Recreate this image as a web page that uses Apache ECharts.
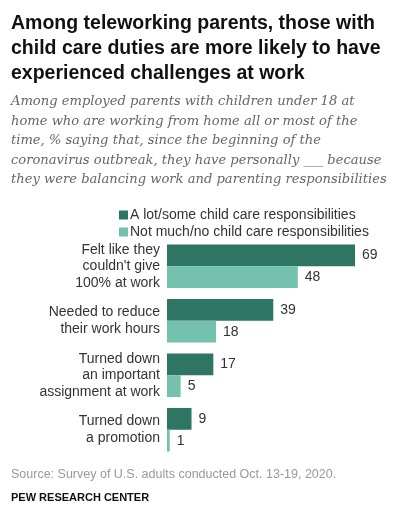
<!DOCTYPE html>
<html>
<head>
<meta charset="utf-8">
<script src="https://cdn.jsdelivr.net/npm/echarts@6/dist/echarts.min.js"></script>
<style>
  html, body { margin: 0; padding: 0; background: #fff; }
  #chart { width: 397px; height: 512px; }
</style>
</head>
<body>
<div id="chart"></div>
<script>
const categories = [
  "Felt like they\ncouldn't give\n100% at work",
  "Needed to reduce\ntheir work hours",
  "Turned down\nan important\nassignment at work",
  "Turned down\na promotion"
];
const seriesNames = [
  "A lot/some child care responsibilities",
  "Not much/no child care responsibilities"
];
const lotSome = [69, 39, 17, 9];
const notMuch = [48, 18, 5, 1];

const titleText = "Among teleworking parents, those with\nchild care duties are more likely to have\nexperienced challenges at work";
const subtitleText = "Among employed parents with children under 18 at\nhome who are working from home all or most of the\ntime, % saying that, since the beginning of the\ncoronavirus outbreak, they have personally ___ because\nthey were balancing work and parenting responsibilities";
const sourceText = "Source: Survey of U.S. adults conducted Oct. 13-19, 2020.";

const chart = echarts.init(document.getElementById('chart'));

const labelFont = "'Liberation Sans', Arial, sans-serif";

chart.setOption({
  animation: false,
  title: [
    {
      text: titleText,
      left: 6, top: 6,
      textStyle: { fontFamily: labelFont, fontWeight: 'bold', fontSize: 19.5, lineHeight: 25, color: '#111' }
    },
    {
      text: subtitleText,
      left: 6, top: 87,
      textStyle: { fontFamily: "'DejaVu Serif', serif", fontStyle: 'italic', fontWeight: 'normal', fontSize: 13.1, lineHeight: 19.5, color: '#666' }
    },
    {
      text: sourceText,
      left: 6, top: 463,
      textStyle: { fontFamily: labelFont, fontWeight: 'normal', fontSize: 12.5, color: '#999' }
    },
    {
      text: "PEW RESEARCH CENTER",
      left: 6, top: 487,
      textStyle: { fontFamily: labelFont, fontWeight: 'bold', fontSize: 11, color: '#111' }
    }
  ],
  legend: {
    orient: 'vertical',
    left: 114, top: 203,
    itemWidth: 9, itemHeight: 9, itemGap: 3,
    icon: 'rect',
    textStyle: { fontFamily: labelFont, fontSize: 14, color: '#333', padding: [0, 0, 0, -3] },
    data: seriesNames
  },
  grid: { left: 167, right: 12, top: 239, bottom: 55, containLabel: false },
  xAxis: {
    type: 'value', min: 0, max: 80,
    show: false
  },
  yAxis: {
    type: 'category', inverse: true,
    data: categories,
    axisLine: { show: false }, axisTick: { show: false },
    axisLabel: { fontFamily: labelFont, fontSize: 14, lineHeight: 16.5, color: '#333', margin: 7, align: 'right' }
  },
  series: [
    {
      name: seriesNames[0], type: 'bar', data: lotSome,
      barGap: '0%', barCategoryGap: '20%',
      itemStyle: { color: '#2e7563' },
      label: { show: true, position: 'right', distance: 7, fontFamily: labelFont, fontSize: 14, color: '#333' }
    },
    {
      name: seriesNames[1], type: 'bar', data: notMuch,
      barGap: '0%', barCategoryGap: '20%',
      itemStyle: { color: '#74c2ad' },
      label: { show: true, position: 'right', distance: 7, fontFamily: labelFont, fontSize: 14, color: '#333' }
    }
  ]
});
</script>
</body>
</html>
